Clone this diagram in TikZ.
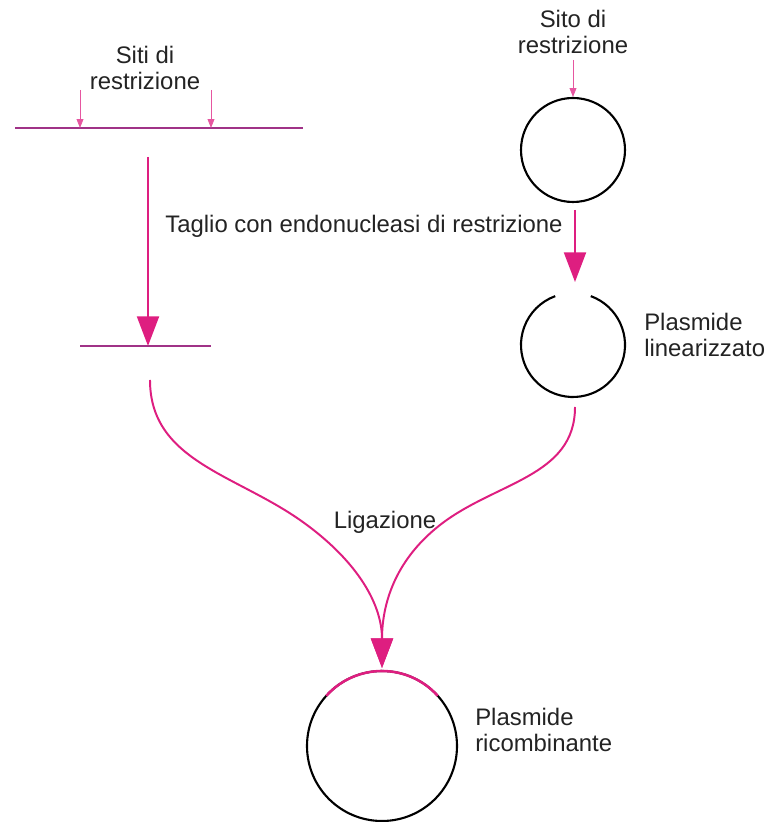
\documentclass[tikz,border=0pt]{standalone}
\usepackage{fontspec}
\setmainfont{Liberation Sans}
\usetikzlibrary{arrows.meta}
\definecolor{rosa}{RGB}{222,30,128}
\definecolor{viola}{RGB}{160,50,135}
\definecolor{testonero}{RGB}{35,35,35}

\begin{document}
\begin{tikzpicture}[
  testo/.style={align=center, text=testonero, font=\fontsize{17}{18}\selectfont},
  freccia/.style={rosa, line width=1.4pt, -{Triangle[width=0.55cm,length=0.74cm]}},
  frecciola/.style={rosa!75, line width=0.6pt, -{Triangle[width=0.17cm,length=0.22cm]}},
  dna/.style={viola, line width=1.9pt},
  plasmide/.style={circle, draw=black, line width=1.5pt, inner sep=0pt}]
\useasboundingbox (0,0) rectangle (19.175,20.55);
% DNA estraneo
\coordinate (dnaA) at (0.375,17.35);
\coordinate (dnaB) at (7.575,17.35);
\draw[dna] (dnaA)--(dnaB);
\node[testo] (siti) at (3.625,18.85) {Siti di\\restrizione};
\coordinate (s1) at (2,18.3);
\coordinate (s2) at (5.275,18.3);
\draw[frecciola] (s1)--(2,17.35);
\draw[frecciola] (s2)--(5.275,17.35);
\coordinate (frammA) at (2,11.9);
\coordinate (frammB) at (5.275,11.9);
\draw[dna] (frammA)--(frammB);
\coordinate (t1) at (3.7,16.625);
\coordinate (t1b) at (3.7,11.9);
\draw[freccia] (t1)--(t1b);
% plasmide
\node[testo] (sito) at (14.325,19.75) {Sito di\\restrizione};
\node[plasmide, minimum size=2.6cm] (cerchio) at (14.325,16.8) {};
\coordinate (s3) at (14.325,19.05);
\draw[frecciola] (s3)--(cerchio.north);
\node[testo] (taglio) at (9.1,14.9) {Taglio con endonucleasi di restrizione};
\coordinate (t2) at (14.375,15.3);
\coordinate (t2b) at (14.375,13.5);
\draw[freccia] (t2)--(t2b);
\coordinate (lin) at (14.325,11.925);
\draw[line width=1.5pt] (lin) ++(70:1.3) arc[start angle=70, end angle=-250, radius=1.3];
\node[testo, align=left, anchor=west, inner sep=0pt] (linearizzato) at (16.1,12.175) {Plasmide\\linearizzato};
% ligazione
\coordinate (l1) at (3.75,11.05);
\coordinate (l2) at (14.375,10.375);
\coordinate (punta) at (9.55,3.85);
\draw[freccia] (l1) to[out=-90,in=145] (7.5,7.55) to[out=-35,in=90] (punta);
\draw[freccia] (l2) to[out=-90,in=38] (11,7.425) to[out=-142,in=90] (punta);
\node[testo] (ligazione) at (9.625,7.5) {Ligazione};
\node[plasmide, minimum size=3.75cm] (ricomb) at (9.55,1.9) {};
\draw[rosa, line width=1.8pt] (ricomb.center) ++(42:1.875) arc[start angle=42, end angle=138, radius=1.875];
\node[testo, align=left, anchor=west, inner sep=0pt] (ricombinante) at (11.875,2.3) {Plasmide\\ricombinante};
\end{tikzpicture}
\end{document}
